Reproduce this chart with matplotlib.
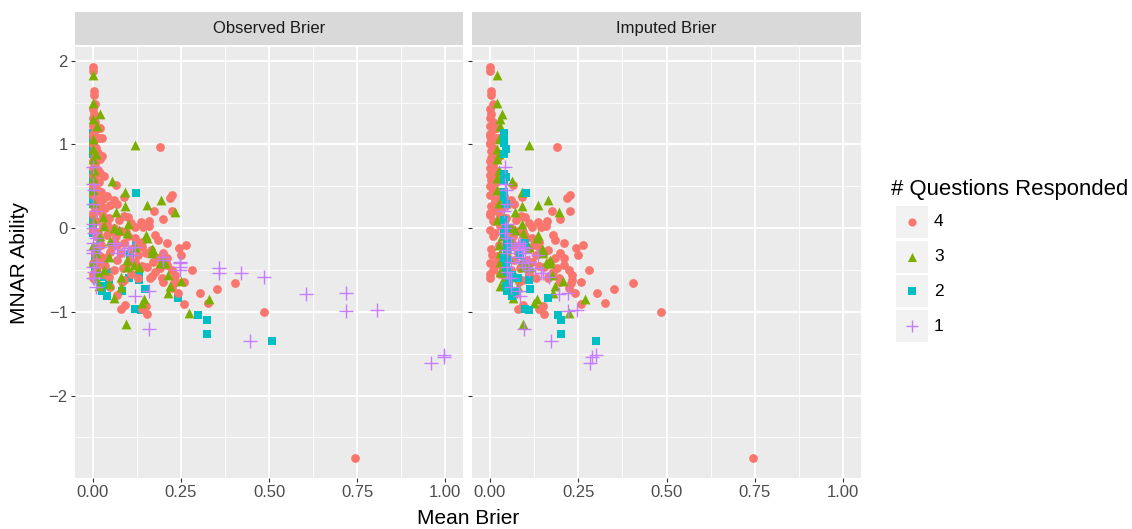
import matplotlib
matplotlib.use("Agg")
import matplotlib.pyplot as plt
from matplotlib.patches import Rectangle

plt.rcParams['font.family'] = ['Liberation Sans', 'DejaVu Sans']

# ---- data ----------------------------------------------------------------
# group "4": observed and imputed Brier are the same
resp4_x = [0.0, 0.0, 0.003, 0.003, 0.0, 0.005, 0.0, 0.008, 0.0, 0.012, 0.02, 0.018,
           0.0, 0.005, 0.0, 0.01, 0.003, 0.015, 0.027, 0.02, 0.0, 0.008, 0.0, 0.012,
           0.033, 0.0, 0.005, 0.018, 0.0, 0.065, 0.01, 0.025, 0.0, 0.04, 0.09, 0.06,
           0.07, 0.015, 0.226, 0.22, 0.005, 0.035, 0.05, 0.088, 0.175, 0.226, 0.199, 0.02,
           0.0, 0.045, 0.075, 0.1, 0.11, 0.136, 0.161, 0.121, 0.144, 0.16, 0.01, 0.03,
           0.06, 0.08, 0.0, 0.015, 0.04, 0.178, 0.186, 0.211, 0.244, 0.265, 0.1, 0.12,
           0.14, 0.09, 0.06, 0.025, 0.005, 0.05, 0.08, 0.11, 0.13, 0.15, 0.165, 0.17,
           0.185, 0.21, 0.19, 0.225, 0.234, 0.281, 0.258, 0.234, 0.225, 0.23, 0.197, 0.2,
           0.167, 0.164, 0.178, 0.14, 0.12, 0.1, 0.07, 0.04, 0.02, 0.0, 0.01, 0.03,
           0.06, 0.084, 0.11, 0.13, 0.303, 0.352, 0.404, 0.327, 0.259, 0.242, 0.485, 0.093,
           0.079, 0.15, 0.155, 0.14, 0.745, 0.05, 0.07, 0.09, 0.19, 0.027, 0.008, 0.0,
           0.015, 0.004, 0.022, 0.0, 0.01, 0.006, 0.0, 0.018, 0.03, 0.045, 0.055, 0.035,
           0.02, 0.012, 0.0, 0.04, 0.07, 0.095, 0.125, 0.105, 0.085, 0.065, 0.045, 0.03,
           0.015, 0.0, 0.005, 0.02, 0.14, 0.155, 0.2, 0.21, 0.25]
resp4_y = [1.93, 1.88, 1.64, 1.59, 1.42, 1.36, 1.31, 1.27, 1.22, 1.18, 1.20, 1.08,
           1.13, 1.05, 1.00, 0.96, 0.92, 0.90, 0.86, 0.83, 0.80, 0.76, 0.72, 0.68,
           0.62, 0.64, 0.58, 0.55, 0.50, 0.52, 0.46, 0.43, 0.40, 0.38, 0.37, 0.34,
           0.29, 0.33, 0.39, 0.36, 0.27, 0.24, 0.28, 0.15, 0.21, 0.21, 0.11, 0.20,
           0.16, 0.12, 0.10, 0.13, 0.06, 0.07, 0.09, 0.01, 0.01, 0.02, 0.08, 0.03,
           0.00, -0.03, -0.02, -0.06, -0.08, -0.08, -0.14, -0.18, -0.24, -0.20, -0.10, -0.12,
           -0.16, -0.18, -0.15, -0.20, -0.25, -0.28, -0.30, -0.25, -0.32, -0.30, -0.26, -0.40,
           -0.36, -0.44, -0.48, -0.50, -0.56, -0.50, -0.64, -0.62, -0.71, -0.65, -0.59, -0.64,
           -0.57, -0.60, -0.52, -0.45, -0.40, -0.42, -0.38, -0.35, -0.40, -0.42, -0.50, -0.55,
           -0.50, -0.64, -0.55, -0.60, -0.78, -0.73, -0.65, -0.89, -0.91, -0.78, -1.00, -0.92,
           -0.97, -0.93, -1.03, -0.97, -2.75, -0.70, -0.80, -0.62, 0.97, 1.08, 1.48, 1.10,
           0.70, 0.62, 0.30, 0.18, -0.10, -0.32, -0.55, 0.44, 0.14, -0.05, -0.22, -0.45,
           -0.33, -0.46, -0.60, 0.05, -0.20, -0.05, -0.20, -0.38, -0.48, -0.10, -0.58, 0.35,
           0.25, 1.02, 0.84, 0.66, -0.22, -0.46, -0.30, -0.36, -0.32]

# group "3"
resp3_y = [1.83, 1.49, 1.36, 1.22, 1.06, 0.99, 0.95, 0.82, 0.70, 0.56, 0.43, 0.28,
           0.33, 0.19, 0.27, 0.19, 0.13, 0.45, 0.30, 0.10, 0.02, 0.00, -0.02, -0.06,
           -0.08, -0.12, -0.25, -0.52, -0.50, -0.67, -0.69, -0.83, -0.46, -0.44, -0.85, -0.77,
           -0.63, -1.01, -0.85, -1.15, -0.42, -0.56, -0.89, -0.47, -0.58, -0.38, -0.30, -0.42,
           -0.38, -0.26, -0.69, -0.20, -0.30, -0.10, -0.40, -0.60, 0.60, 1.30, 0.88, -0.15,
           -0.35, 0.05, -0.22, -0.70]
resp3_obs = [0.0, 0.0, 0.02, 0.013, 0.0, 0.119, 0.0, 0.0, 0.005, 0.056, 0.093, 0.154,
             0.194, 0.234, 0.091, 0.067, 0.03, 0.0, 0.005, 0.0, 0.032, 0.06, 0.074, 0.098,
             0.15, 0.155, 0.168, 0.016, 0.032, 0.046, 0.018, 0.06, 0.098, 0.117, 0.145, 0.214,
             0.25, 0.272, 0.331, 0.095, 0.206, 0.215, 0.14, 0.131, 0.079, 0.098, 0.169, 0.192,
             0.2, 0.171, 0.22, 0.0, 0.01, 0.02, 0.0, 0.01, 0.0, 0.0, 0.01, 0.05,
             0.045, 0.1, 0.12, 0.08]
resp3_imp = [0.02, 0.02, 0.036, 0.029, 0.025, 0.111, 0.02, 0.02, 0.025, 0.062, 0.09, 0.138,
             0.166, 0.197, 0.09, 0.072, 0.04, 0.02, 0.025, 0.02, 0.04, 0.06, 0.072, 0.095,
             0.138, 0.133, 0.147, 0.03, 0.04, 0.05, 0.03, 0.065, 0.09, 0.10, 0.133, 0.18,
             0.208, 0.224, 0.27, 0.095, 0.17, 0.175, 0.125, 0.115, 0.075, 0.09, 0.15, 0.16,
             0.17, 0.15, 0.184, 0.025, 0.03, 0.035, 0.03, 0.04, 0.02, 0.03, 0.025, 0.06,
             0.055, 0.09, 0.11, 0.08]

# group "2"
resp2_y = [1.14, 1.08, 1.02, 0.95, 0.89, 0.65, 0.61, 0.57, 0.43, 0.37, 0.29, 0.42,
           0.10, 0.00, -0.06, -0.18, -0.32, -0.56, -0.62, -0.60, -0.75, -0.69, -0.81, -0.75,
           -0.65, -0.73, -0.96, -0.98, -0.84, -1.04, -1.10, -1.27, -1.35, -0.38, -0.52, -0.46,
           -0.58, -0.36, -0.44, -0.25, -0.15]
resp2_obs = [0.0, 0.0, 0.0, 0.0, 0.0, 0.0, 0.0, 0.0, 0.0, 0.0, 0.0, 0.124,
             0.0, 0.0, 0.0, 0.123, 0.107, 0.131, 0.131, 0.103, 0.084, 0.023, 0.041, 0.027,
             0.046, 0.148, 0.121, 0.136, 0.242, 0.299, 0.324, 0.324, 0.509, 0.032, 0.041, 0.008,
             0.032, 0.008, 0.008, 0.01, 0.02]
resp2_imp = [0.04, 0.04, 0.04, 0.045, 0.04, 0.04, 0.045, 0.04, 0.04, 0.04, 0.045, 0.104,
             0.04, 0.045, 0.04, 0.10, 0.085, 0.062, 0.11, 0.08, 0.072, 0.045, 0.062, 0.05,
             0.055, 0.114, 0.10, 0.111, 0.164, 0.192, 0.203, 0.203, 0.30, 0.053, 0.05, 0.045,
             0.06, 0.04, 0.045, 0.05, 0.05]

# group "1"
resp1_y = [-0.48, -0.54, -0.53, -0.58, -0.79, -0.77, -0.99, -0.98, -1.35, -1.61, -1.52, -1.54,
           -0.40, -0.46, -0.50, -0.42, -0.38, -0.35, -0.75, -0.81, -1.21, 0.73, 0.53, 0.45,
           0.29, 0.20, 0.05, 0.00, -0.06, -0.12, -0.18, -0.22, -0.30, -0.40, -0.52, -0.60,
           -0.70, -0.26, -0.24, -0.22, -0.20, -0.30, -0.18, -0.26, -0.46, -0.60, -0.32]
resp1_obs = [0.359, 0.359, 0.42, 0.487, 0.606, 0.719, 0.719, 0.807, 0.446, 0.958, 0.995, 0.995,
             0.249, 0.249, 0.249, 0.249, 0.20, 0.20, 0.159, 0.121, 0.159, 0.0, 0.0, 0.005,
             0.0, 0.01, 0.0, 0.0, 0.005, 0.01, 0.0, 0.02, 0.0, 0.01, 0.005, 0.0,
             0.01, 0.088, 0.101, 0.121, 0.06, 0.07, 0.06, 0.0, 0.0, 0.004, 0.112]
resp1_imp = [0.128, 0.151, 0.144, 0.167, 0.195, 0.222, 0.222, 0.246, 0.173, 0.283, 0.30, 0.29,
             0.11, 0.10, 0.11, 0.09, 0.09, 0.08, 0.083, 0.085, 0.098, 0.044, 0.044, 0.045,
             0.05, 0.04, 0.05, 0.044, 0.044, 0.05, 0.06, 0.07, 0.05, 0.06, 0.05, 0.055,
             0.06, 0.09, 0.10, 0.095, 0.08, 0.10, 0.085, 0.05, 0.05, 0.06, 0.136]

x_ticks = [0.0, 0.25, 0.5, 0.75, 1.0]
x_tick_labels = ['0.00', '0.25', '0.50', '0.75', '1.00']
y_ticks = [-2, -1, 0, 1, 2]
y_tick_labels = ['\u22122', '\u22121', '0', '1', '2']
panel_titles = ['Observed Brier', 'Imputed Brier']
levels = ['4', '3', '2', '1']
draw_orders = [['2', '4', '3', '1'], ['4', '3', '2', '1']]

colors = {'4': '#F8766D', '3': '#7CAE00', '2': '#00BFC4', '1': '#C77CFF'}
markers = {'4': ('o', 40, 0), '3': ('^', 50, 0), '2': ('s', 32, 0), '1': ('+', 88, 1.0)}

W, H = 1132, 529
fig = plt.figure(figsize=(W / 100, H / 100), dpi=100)


def px_axes(x0, y0, x1, y1):
    return fig.add_axes([x0 / W, 1 - y1 / H, (x1 - x0) / W, (y1 - y0) / H])


def draw_points(ax, x, y, lev):
    m, s, lw = markers[lev]
    ax.scatter(x, y, marker=m, s=s, c=colors[lev], linewidths=lw, zorder=3)


panels = [(75, 463), (472, 861)]
series = [
    {'4': resp4_x, '3': resp3_obs, '2': resp2_obs, '1': resp1_obs},
    {'4': resp4_x, '3': resp3_imp, '2': resp2_imp, '1': resp1_imp},
]
ys = {'4': resp4_y, '3': resp3_y, '2': resp2_y, '1': resp1_y}

for i, (x0, x1) in enumerate(panels):
    ax = px_axes(x0, 47, x1, 478)
    ax.set_facecolor('#EBEBEB')
    for sp in ax.spines.values():
        sp.set_visible(False)
    ax.set_xlim(-0.05, 1.05)
    ax.set_ylim(-2.984, 2.163)
    ax.set_xticks(x_ticks)
    ax.set_xticklabels(x_tick_labels)
    ax.set_yticks(y_ticks)
    if i == 0:
        ax.set_yticklabels(y_tick_labels)
    else:
        ax.set_yticklabels([])
        ax.tick_params(axis='y', length=0)
    ax.set_xticks([0.125, 0.375, 0.625, 0.875], minor=True)
    ax.set_yticks([-2.5, -1.5, -0.5, 0.5, 1.5], minor=True)
    ax.tick_params(which='minor', length=0)
    ax.tick_params(which='major', length=3.2, width=0.8, color='#333333',
                   labelcolor='#4D4D4D', labelsize=12, pad=2)
    ax.grid(True, which='major', color='white', lw=1.3)
    ax.grid(True, which='minor', color='white', lw=0.6)
    ax.set_axisbelow(True)
    for lev in draw_orders[i]:
        draw_points(ax, series[i][lev], ys[lev], lev)
    if i == 0:
        ax.set_ylabel('MNAR Ability', fontsize=15, color='black', labelpad=14)

    sax = px_axes(x0, 12, x1, 45)
    sax.set_facecolor('#D9D9D9')
    sax.set_xticks([])
    sax.set_yticks([])
    for sp in sax.spines.values():
        sp.set_visible(False)
    sax.text(0.5, 0.5, panel_titles[i], ha='center', va='center',
             fontsize=12, color='#1A1A1A', transform=sax.transAxes)

fig.text(468 / W, 1 - 518 / H, 'Mean Brier', ha='center', va='center', fontsize=15)

# legend drawn by hand
lax = px_axes(880, 170, 1132, 350)
lax.set_xlim(880, 1132)
lax.set_ylim(350, 170)
lax.axis('off')
lax.text(891, 190, '# Questions Responded', ha='left', va='center', fontsize=15.9)
for k, lev in enumerate(levels):
    top = 206 + k * 34.7
    lax.add_patch(Rectangle((896, top), 32, 32, facecolor='#F2F2F2', edgecolor='none'))
    m, s, lw = markers[lev]
    lax.scatter([912], [top + 16], marker=m, s=s * 0.85, c=colors[lev], linewidths=lw)
    lax.text(934, top + 16, lev, ha='left', va='center', fontsize=12.5)

fig.savefig('out.png', dpi=100)
